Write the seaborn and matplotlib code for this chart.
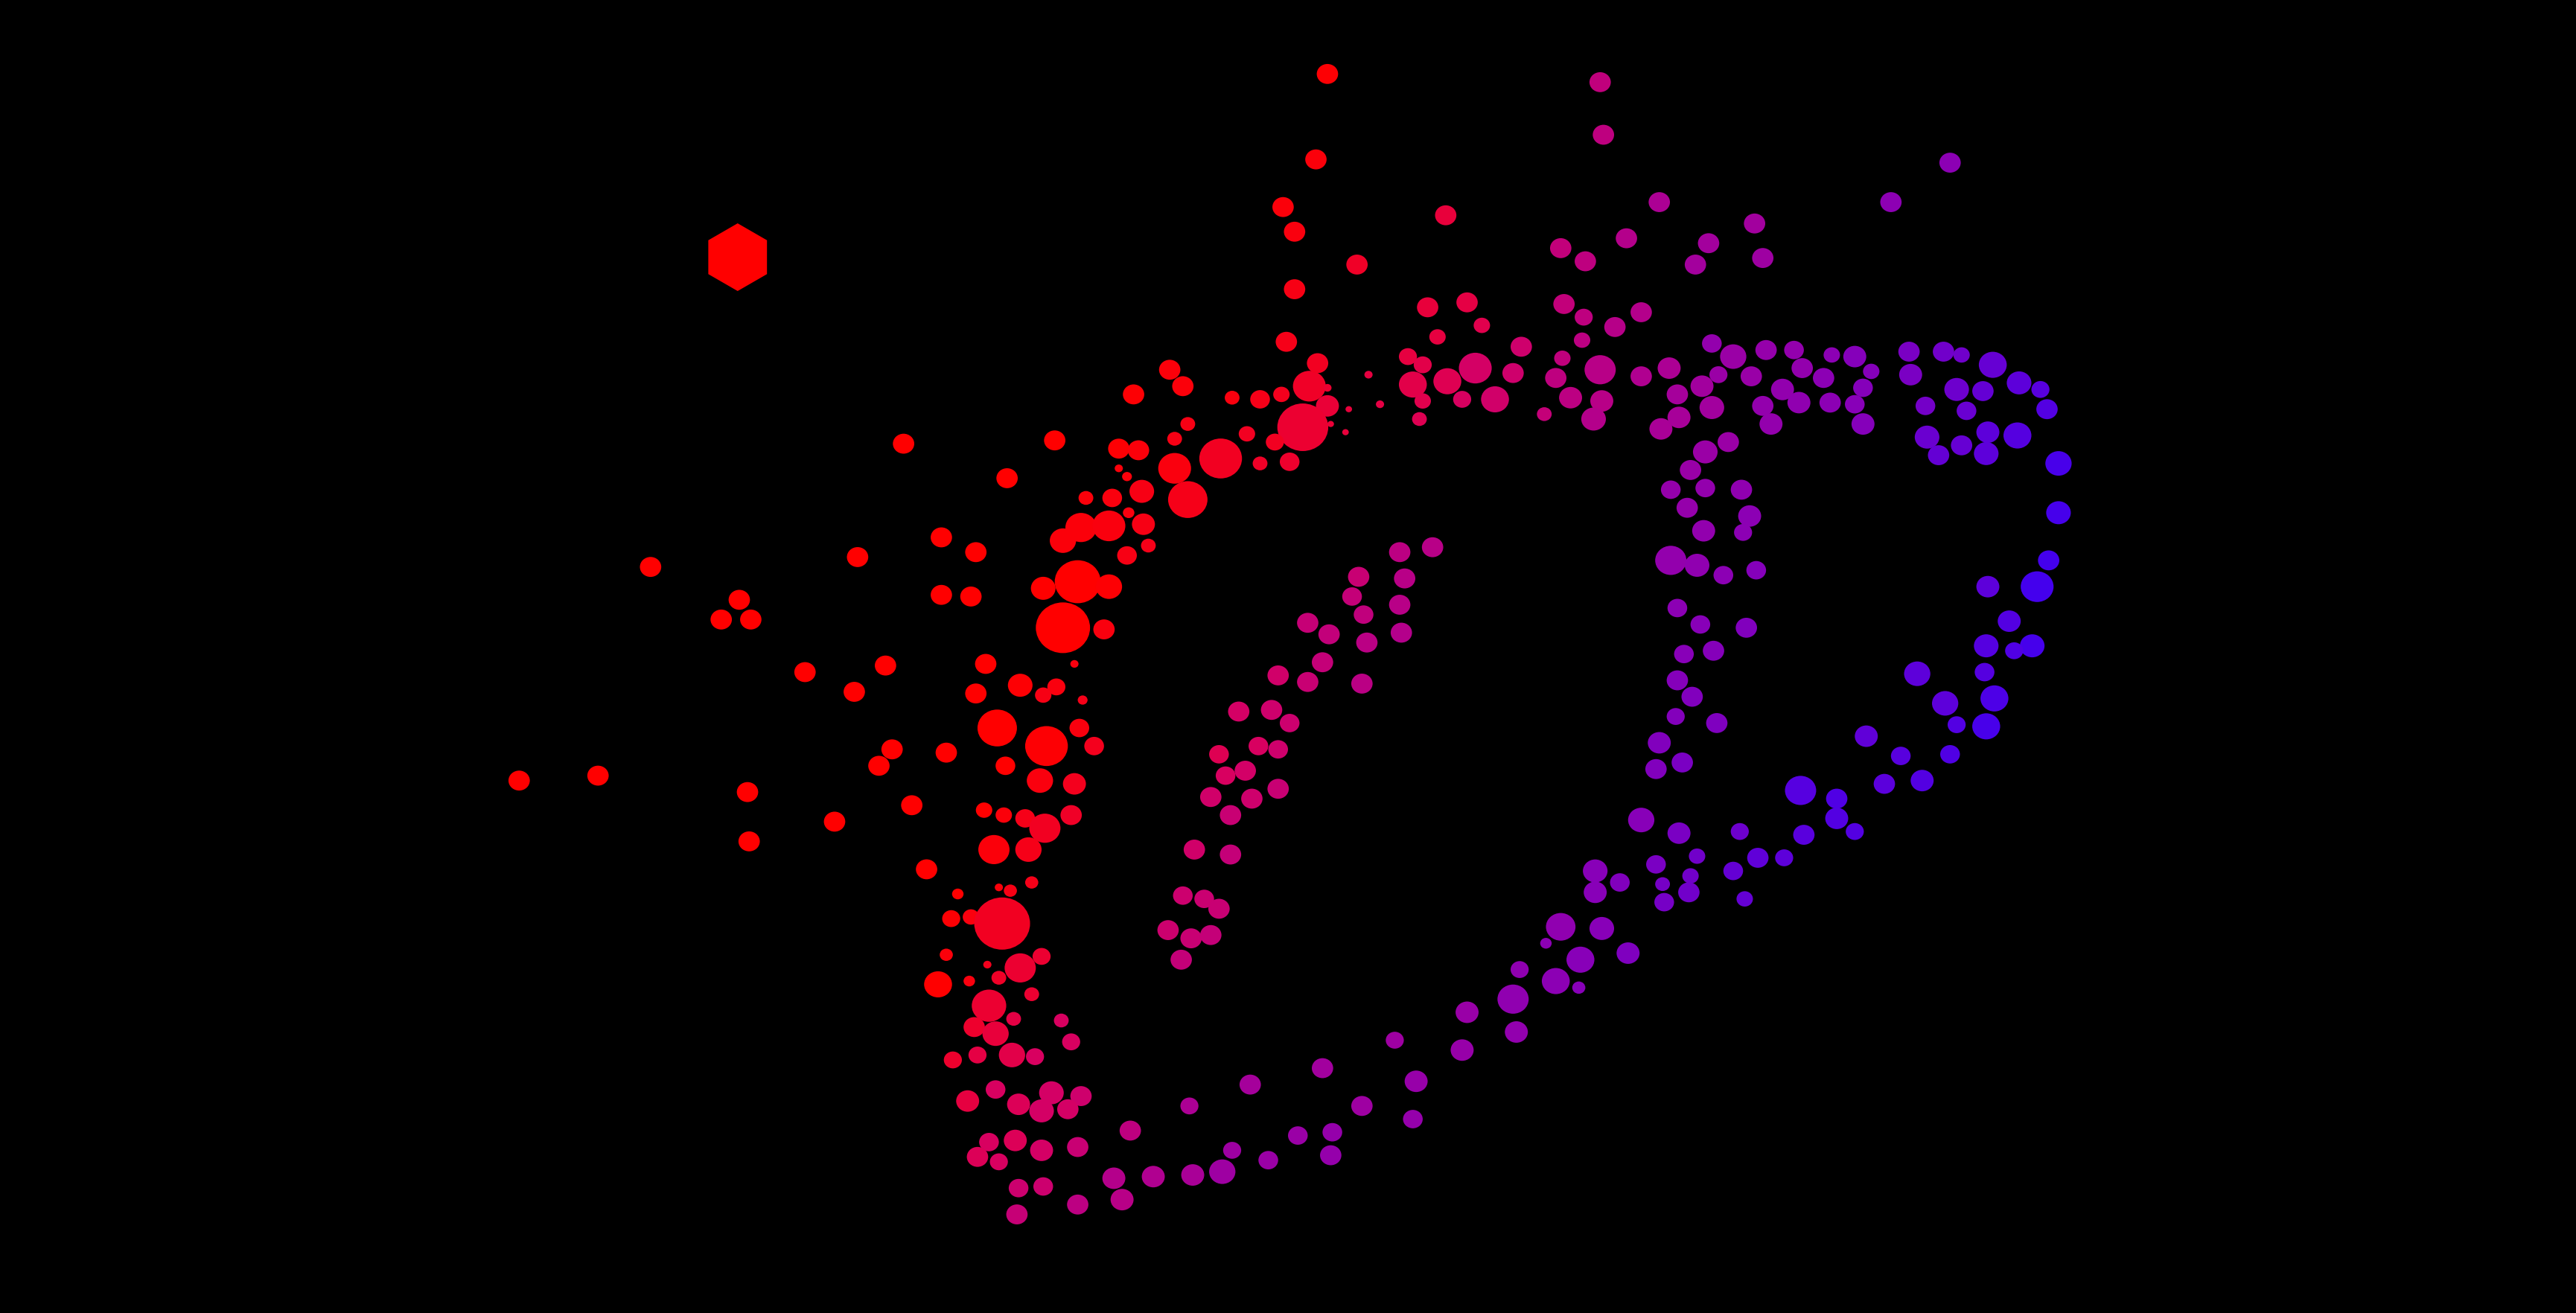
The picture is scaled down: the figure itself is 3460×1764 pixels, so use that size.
import pandas as pd
import matplotlib
matplotlib.use("Agg")
import matplotlib.pyplot as plt
import seaborn as sns
from matplotlib.colors import LinearSegmentedColormap
from matplotlib.path import Path
from matplotlib.transforms import Affine2D

# one line per cluster, same order in all four lists
x = [
    808, 974, 976, 801, 781, 788, 880, 1187, 1151, 1010, 1068, 950, 965, 990, 1040, 1032, 1073, 826, 788, 783,
    869, 893, 902, 875, 857, 866, 860, 866, 864, 881, 898, 890, 910, 926, 921, 940,
    952, 964, 983, 999, 963, 951, 947, 974, 956, 975, 970, 999, 1016, 1011, 1021, 1022, 1036, 1042,
    1042, 1055, 1046, 1066, 1075, 1092, 1097, 1085, 1073, 1078, 1095, 1110, 1115, 1114, 1129, 1139, 1134, 1129, 1134,
    1162, 1183, 1194, 1213, 1229, 1242, 1246, 1163, 1191, 1207, 1172, 1197, 1173, 1180, 1194, 1210, 1228, 1209,
    1253, 1253, 1247, 1240, 1210, 1223, 1209, 1237, 1226, 1167, 1208, 1214, 1184,
    1052, 1038, 1029, 1017, 1038, 1060, 1027, 1065, 1037, 1061, 1017, 1033, 1049, 1069, 1021, 1035, 1063, 1043, 1025, 1021, 1030,
    1136, 1157, 1187, 1191, 1209, 1147, 1170, 1096, 1118, 1118, 1129, 1098, 1086, 1070, 1055, 1059, 1062,
    1045, 1033, 1022, 999, 1024, 1010, 1008, 1020, 1008, 1012, 1029, 1028, 1013, 986, 971, 971,
    950, 975, 991, 941, 962, 925, 947, 961, 921, 923, 893, 890, 849, 862, 829, 860,
    712, 720, 690, 750, 767, 780, 797, 802, 808, 793, 776, 808, 810, 821, 819, 833, 840, 759, 723, 715, 743, 767, 785,
    681, 693, 642, 550, 613, 681, 686, 715, 695, 723, 661, 677, 687, 696, 658, 675, 647, 699, 686,
    573, 594, 522, 656, 675, 635, 647, 672, 573, 591, 450, 439, 457, 396,
    490, 539, 520, 600, 654, 621, 643, 635, 594, 659, 316, 364, 455, 456,
    607, 637, 657, 666, 543, 535, 576, 612, 633, 654, 555, 508, 599, 611, 624, 636, 652, 605, 626, 564,
    628, 608, 615, 583, 579, 591, 610, 576, 634, 621, 601, 571, 590, 608, 628, 602, 617, 646, 593, 606, 652,
    595, 616, 630, 580, 606, 589, 620, 640, 658, 634, 650, 602, 618, 634, 656, 595, 608, 620, 635, 656, 619,
    678, 702, 683, 688, 726, 744, 724, 761, 805, 750, 772, 790, 811, 810,
    852, 872, 855, 852, 853, 827, 823, 830, 796, 809, 832, 805, 778, 796, 829,
    754, 774, 785, 766, 778, 742, 746, 758, 737, 762, 778, 749, 727, 749, 720, 733, 742, 711, 725, 737, 719,
]
y = [
    45, 50, 82, 97, 126, 141, 131, 99, 123, 123, 136, 151, 159, 145, 148, 161, 157, 161, 176, 208,
    187, 184, 198, 205, 217, 222, 234, 244, 255, 232, 224, 243, 243, 211, 227, 252,
    185, 193, 199, 190, 207, 218, 230, 225, 242, 244, 255, 229, 224, 261, 240, 254, 235, 248,
    209, 217, 228, 229, 213, 213, 224, 237, 247, 258, 245, 230, 216, 245, 217, 226, 236, 246, 258,
    214, 214, 216, 222, 233, 237, 249, 228, 237, 238, 247, 250, 266, 277, 271, 263, 265, 276,
    282, 312, 341, 357, 357, 378, 393, 393, 396, 410, 409, 425, 428,
    269, 275, 286, 298, 297, 298, 309, 314, 323, 324, 341, 344, 350, 347, 370, 380, 382, 396, 398, 414, 424,
    448, 460, 459, 441, 442, 477, 475, 481, 486, 498, 506, 508, 522, 522, 530, 506, 547,
    440, 521, 507, 499, 464, 452, 468, 436, 526, 538, 533, 543, 549, 537, 530, 543,
    564, 565, 580, 574, 584, 590, 597, 601, 608, 628, 616, 639, 633, 658, 673, 681,
    225, 235, 240, 242, 243, 240, 235, 221, 247, 260, 269, 236, 258, 249, 263, 228, 246, 264, 258, 267, 279, 282, 281,
    273, 274, 268, 270, 291, 285, 290, 285, 299, 304, 303, 303, 312, 319, 321, 320, 329, 332, 338,
    327, 336, 339, 354, 357, 358, 382, 383, 362, 363, 365, 377, 377, 345,
    409, 405, 421, 404, 404, 417, 418, 423, 422, 426, 475, 472, 482, 512,
    443, 454, 443, 454, 456, 466, 458, 466, 475, 477, 490, 500, 493, 496, 498, 504, 496, 517, 517, 529,
    537, 540, 542, 544, 559, 558, 562, 581, 582, 589, 587, 599, 597, 595, 605, 612, 620, 621, 625, 629, 634,
    642, 642, 643, 645, 663, 670, 672, 665, 667, 676, 675, 695, 694, 700, 698, 704, 707, 723, 722, 733, 739,
    717, 716, 730, 688, 715, 713, 673, 660, 650, 700, 706, 691, 689, 703,
    336, 333, 352, 368, 385, 351, 363, 374, 379, 386, 391, 403, 411, 415, 416,
    433, 432, 440, 454, 456, 459, 472, 469, 485, 486, 480, 496, 517, 520, 545, 547, 553, 566, 571, 569, 584,
]
width = [
    13, 13, 13, 13, 13, 13, 13, 13, 13, 13, 13, 13, 13, 13, 13, 13, 13, 13, 13, 13,
    13, 13, 10, 10, 11, 11, 17, 10, 9, 17, 20, 11, 17, 13, 13, 9,
    13, 11, 13, 13, 10, 10, 13, 19, 14, 14, 15, 13, 14, 14, 13, 14, 14, 15,
    12, 16, 11, 13, 13, 12, 13, 14, 13, 14, 14, 13, 10, 13, 14, 10, 12, 12, 14,
    13, 13, 10, 17, 15, 11, 13, 14, 15, 13, 12, 12, 15, 13, 13, 14, 17, 15,
    16, 15, 13, 20, 14, 14, 15, 15, 11, 16, 12, 17, 16,
    13, 15, 13, 12, 12, 13, 13, 14, 14, 11, 19, 15, 12, 12, 12, 12, 13, 13, 12, 13, 13,
    14, 12, 12, 11, 17, 13, 14, 19, 13, 14, 11, 13, 11, 13, 12, 11, 10,
    13, 10, 14, 16, 13, 14, 13, 11, 12, 9, 10, 13, 12, 12, 15, 14,
    18, 15, 14, 7, 17, 11, 17, 8, 19, 14, 14, 14, 11, 14, 13, 12,
    13, 13, 13, 9, 12, 10, 20, 13, 14, 31, 11, 5, 4, 4, 4, 5, 5, 10, 9, 9, 26, 9, 12,
    13, 13, 13, 13, 13, 5, 6, 20, 15, 24, 9, 12, 7, 14, 19, 20, 16, 9, 12,
    13, 13, 13, 28, 16, 15, 33, 13, 13, 13, 13, 13, 13, 13,
    13, 13, 13, 13, 5, 15, 11, 10, 13, 6, 13, 13, 13, 13,
    24, 26, 12, 12, 13, 13, 13, 12, 16, 14, 13, 13, 10, 10, 12, 19, 13, 19, 16, 13,
    8, 5, 8, 7, 11, 10, 34, 8, 11, 19, 5, 17, 7, 9, 9, 21, 9, 9, 13, 16, 11,
    11, 16, 11, 11, 12, 14, 14, 15, 13, 15, 13, 12, 14, 14, 13, 13, 11, 12, 12, 13, 13,
    14, 14, 14, 13, 14, 16, 11, 13, 13, 11, 12, 12, 12, 13,
    13, 13, 13, 13, 13, 13, 12, 12, 13, 13, 13, 13, 13, 13, 13,
    13, 13, 12, 12, 12, 12, 12, 13, 13, 13, 13, 13, 13, 13, 12, 12, 13, 13, 13, 13, 13,
]
tone = [
    .01, .32, .33, .02, .02, .03, .12, .6, .59, .42, .48, .31, .33, .38, .47, .47, .5, .08, .04, .05,
    .12, .14, .16, .13, .13, .15, .15, .16, .17, .17, .22, .2, .24, .25, .25, .3,
    .31, .33, .37, .38, .34, .32, .33, .36, .34, .36, .38, .4, .42, .44, .46, .45, .48, .48,
    .56, .52, .52, .53, .55, .56, .56, .57, .56, .56, .58, .6, .6, .6, .63, .63, .63, .62, .63,
    .68, .72, .73, .77, .82, .85, .88, .68, .74, .78, .71, .76, .75, .78, .77, .82, .87, .82,
    .95, .96, .97, .97, .82, .88, .87, .96, .9, .82, .87, .92, .82,
    .52, .52, .53, .55, .56, .58, .55, .6, .57, .6, .56, .58, .6, .63, .6, .62, .65, .63, .62, .63, .65,
    .8, .85, .9, .88, .95, .83, .88, .86, .9, .88, .88, .84, .82, .8, .78, .74, .78,
    .66, .72, .68, .62, .68, .65, .65, .64, .68, .7, .72, .72, .7, .65, .62, .62,
    .58, .62, .66, .6, .62, .58, .6, .62, .58, .57, .53, .54, .5, .54, .5, .55,
    .02, .02, .01, .03, .05, .06, .08, .07, .11, .1, .07, .1, .11, .12, .12, .13, .14, .07, .04, .04, .07, .08, .09,
    .01, .02, 0, 0, 0, .02, .02, .03, .04, .05, .02, .03, .03, .04, .02, .03, .02, .05, .04,
    0, 0, 0, 0, .01, 0, 0, .03, 0, 0, 0, 0, 0, 0,
    0, 0, 0, 0, .03, .01, .03, .04, 0, .05, 0, 0, 0, 0,
    0, .01, .03, .06, 0, 0, 0, 0, .03, .06, 0, 0, 0, .02, .05, .07, .08, .02, .05, 0,
    .05, .02, .04, 0, .01, .03, .07, .02, .1, .1, .06, 0, .03, .08, .1, .1, .14, .2, .09, .12, .2,
    .14, .15, .2, .09, .2, .13, .18, .22, .25, .22, .22, .2, .18, .22, .28, .18, .2, .26, .26, .34, .29,
    .38, .4, .36, .33, .44, .5, .42, .46, .48, .5, .52, .52, .55, .55,
    .34, .36, .36, .36, .38, .28, .3, .32, .29, .31, .35, .3, .24, .28, .35,
    .22, .25, .26, .2, .25, .17, .2, .23, .24, .25, .28, .28, .24, .3, .26, .27, .28, .26, .28, .3, .3,
]

# the odd one out, top left
hex_x = [449]
hex_y = [156.5]

# red to blue, stops
tone_stops = [0, .12, .2, .4, .6, .8, 1]
tone_colors = ["#ff0000", "#e8003c", "#d80060", "#b00090", "#8c00b4", "#6000d8", "#4000f0"]

df = pd.DataFrame({"x": x, "y": y, "width": width, "tone": tone})
df["area"] = (df["width"] * 0.7944) ** 2

cmap = LinearSegmentedColormap.from_list("redblue", list(zip(tone_stops, tone_colors)))
blob = Path.unit_circle().transformed(Affine2D().scale(1.07, 1))

fig = plt.figure(figsize=(17.3, 8.82), dpi=200, facecolor="black")
ax = fig.add_axes([0, 0, 1, 1])
ax.set_facecolor("black")

sns.scatterplot(data=df, x="x", y="y", hue="tone", palette=cmap, hue_norm=(0, 1),
                size="area", sizes=(df["area"].min(), df["area"].max()),
                size_norm=(df["area"].min(), df["area"].max()),
                marker=blob, linewidth=0, edgecolor="none", legend=False, ax=ax)
sns.scatterplot(x=hex_x, y=hex_y, color="#ff0000", marker="h", s=1073,
                linewidth=0, edgecolor="none", legend=False, ax=ax)

ax.set_xlim(0, 1568)
ax.set_ylim(799, 0)
ax.axis("off")

fig.savefig("out.png", dpi=200, facecolor="black")
